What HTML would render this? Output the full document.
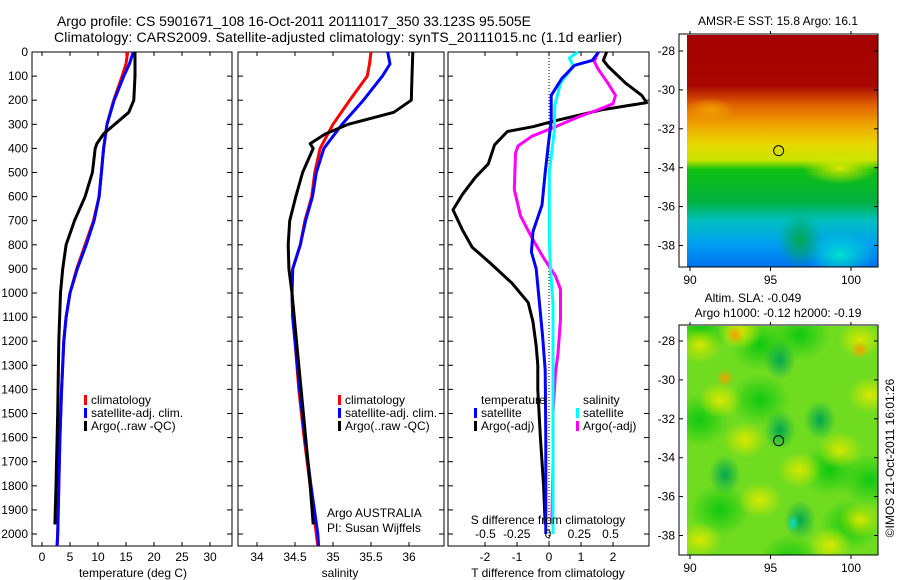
<!DOCTYPE html>
<html><head><meta charset="utf-8"><style>
html,body{margin:0;padding:0;background:#fff}
svg{display:block;font-family:"Liberation Sans",Arial,sans-serif;font-size:12px}
</style></head><body>
<svg id="fig" width="900" height="580" viewBox="0 0 900 580">
<defs>
<clipPath id="clip1"><rect x="687" y="35" width="191" height="232"/></clipPath>
<clipPath id="clip2"><rect x="687" y="326" width="191" height="229"/></clipPath>
<linearGradient id="sstg" x1="0" y1="0" x2="0" y2="1">
<stop offset="0" stop-color="#a40000"/><stop offset="0.22" stop-color="#a80800"/>
<stop offset="0.3" stop-color="#e06000"/><stop offset="0.38" stop-color="#f0a000"/>
<stop offset="0.47" stop-color="#e8d800"/><stop offset="0.54" stop-color="#c8e400"/>
<stop offset="0.58" stop-color="#10c010"/><stop offset="0.72" stop-color="#00b040"/>
<stop offset="0.8" stop-color="#00c0c0"/><stop offset="0.9" stop-color="#00a0f0"/>
<stop offset="1" stop-color="#0070f0"/></linearGradient>
<radialGradient id="gblob"><stop offset="0" stop-color="#00a850"/><stop offset="1" stop-color="#00a850" stop-opacity="0"/></radialGradient>
<radialGradient id="yblob"><stop offset="0" stop-color="#d8e800"/><stop offset="1" stop-color="#d8e800" stop-opacity="0"/></radialGradient>
<radialGradient id="oblob"><stop offset="0" stop-color="#f0a000"/><stop offset="1" stop-color="#f0a000" stop-opacity="0"/></radialGradient>
<radialGradient id="cblob"><stop offset="0" stop-color="#00e0d0"/><stop offset="1" stop-color="#00e0d0" stop-opacity="0"/></radialGradient>
<radialGradient id="lgblob"><stop offset="0" stop-color="#10c810"/><stop offset="1" stop-color="#10c810" stop-opacity="0"/></radialGradient>
</defs>
<g id="map1g" clip-path="url(#clip1)"></g>
<g id="map2g" clip-path="url(#clip2)"></g>
<g id="root"></g>
</svg>
<script>
// ---- data ----
const tDepth   = [0,50,100,200,300,400,500,600,700,800,900,1000,1100,1200,1400,1600,1800,2000,2050];
const tClim    = [15.3,15.0,14.3,12.8,11.6,11.0,10.6,10.2,9.2,7.7,6.2,5.0,4.3,3.9,3.5,3.2,3.0,2.8,2.7];
const tSat     = [16.3,15.6,14.6,12.9,11.6,11.0,10.6,10.2,9.3,7.9,6.3,5.0,4.3,3.9,3.5,3.2,3.0,2.8,2.7];
const argoDepth= [0,100,200,250,300,340,380,400,500,600,700,800,900,1000,1200,1500,1800,1960];
const tArgo    = [16.6,16.6,16.4,15.5,13.0,11.0,9.8,9.5,9.0,7.7,5.8,4.3,3.7,3.3,3.0,2.8,2.5,2.3];
const sClim    = [35.5,35.48,35.45,35.22,35.0,34.83,34.76,34.72,34.63,34.57,34.47,34.46,34.47,34.5,34.55,34.62,34.7,34.78,34.8];
const sSat     = [35.72,35.75,35.65,35.4,35.12,34.88,34.78,34.73,34.64,34.57,34.47,34.46,34.47,34.5,34.56,34.63,34.71,34.8,34.81];
const sArgo    = [36.05,36.04,36.03,35.8,35.2,34.9,34.7,34.74,34.6,34.51,34.43,34.41,34.42,34.46,34.52,34.61,34.7,34.74];
const dDepthK  = [0,35,60,130,180,210,240,285,310,330,385,465,520,590,655,740,810,880,960,1040,1120,1220,1300,1400,1600,1800,1960];
const dTArgo   = [1.8,1.7,1.85,2.4,2.9,3.05,1.65,0.2,-0.5,-1.3,-1.7,-1.9,-2.3,-2.7,-3.0,-2.7,-2.4,-1.8,-1.15,-0.65,-0.5,-0.4,-0.35,-0.35,-0.27,-0.17,-0.12];
const dDepthB  = [0,35,55,110,180,290,360,500,635,745,830,900,1040,1180,1320,1600,1800,2000];
const dTSat    = [1.55,1.35,0.8,0.4,0.07,0.07,0.0,-0.12,-0.22,-0.5,-0.55,-0.4,-0.3,-0.2,-0.12,-0.1,-0.1,-0.1];
const dDepthC  = [0,25,55,80,130,220,330,500,780,900,1050,1300,1600,1800,2000];
const dSSat    = [0.24,0.17,0.2,0.17,0.1,0.055,0.05,0.01,0.01,0.02,0.04,0.04,0.04,0.04,0.04];
const dDepthM  = [0,40,70,130,180,215,240,270,310,350,390,420,570,680,770,850,930,985,1110,1250,1330,1500,1700,1960];
const dSArgo   = [0.4,0.37,0.4,0.48,0.54,0.52,0.4,0.24,0.06,-0.13,-0.24,-0.26,-0.27,-0.22,-0.13,-0.04,0.06,0.1,0.1,0.08,0.06,0.04,0.04,0.03];
const depthTicks = [0,100,200,300,400,500,600,700,800,900,1000,1100,1200,1300,1400,1500,1600,1700,1800,1900,2000];
const tempTicks = [0,5,10,15,20,25,30];
const salTicks = [34,34.5,35,35.5,36];
const salTickLabels = ["34","34.5","35","35.5","36"];
const dtTicks = [-2,-1,0,1,2];
const dsTicks = [-0.5,-0.25,0,0.25,0.5];
const dsTickLabels = ["-0.5","-0.25","0","0.25","0.5"];
const latTicks = [-28,-30,-32,-34,-36,-38];
const lonTicks = [90,95,100];

// ---- helpers ----
const NS="http://www.w3.org/2000/svg";
const root=document.getElementById('root');
const map1g=document.getElementById('map1g');
const map2g=document.getElementById('map2g');
function mk(tag,attrs,parent){const e=document.createElementNS(NS,tag);for(const k in attrs)e.setAttribute(k,attrs[k]);(parent||root).appendChild(e);return e;}
function txt(s,x,y,anchor,parent,size){const e=mk('text',{x:x,y:y,'text-anchor':anchor||'start','font-size':size||12},parent);e.textContent=s;return e;}
const Y0=52, YB=546;
const yD=d=>Y0+d*0.241;
const xT=t=>42+t*5.6;
const xS=s=>295+(s-34.5)*76;
const xDT=v=>549+v*32;
const xDS=v=>548+v*125;
function line(xs,ys,xf,color,name,w){
  const pts=xs.map((v,i)=>xf(v).toFixed(1)+','+yD(ys[i]).toFixed(1)).join(' ');
  const e=mk('polyline',{points:pts,fill:'none',stroke:color,'stroke-width':w||3,'stroke-linejoin':'round'});
  
  
  return e;
}
function box(x1,x2,name){const e=mk('rect',{x:x1,y:Y0,width:x2-x1,height:YB-Y0,fill:'none',stroke:'#000','stroke-width':1});
  
  }

// titles
let t1=txt('Argo profile: CS 5901671_108 16-Oct-2011 20111017_350 33.123S 95.505E',57,26,'start',null,14);
t1.setAttribute('textLength','474');


let t2=txt('Climatology: CARS2009. Satellite-adjusted climatology: synTS_20111015.nc (1.1d earlier)',54,42,'start',null,14);
t2.setAttribute('textLength','568');



// panel 1: temperature
box(32,232,'temperature-panel');
depthTicks.forEach(d=>{
  mk('line',{x1:32,x2:37,y1:yD(d),y2:yD(d),stroke:'#000'});
  mk('line',{x1:227,x2:232,y1:yD(d),y2:yD(d),stroke:'#000'});
  const e=txt(String(d),28,yD(d)+4,'end');
  
  
});
tempTicks.forEach(t=>{
  mk('line',{x1:xT(t),x2:xT(t),y1:Y0,y2:Y0+4,stroke:'#000'});
  mk('line',{x1:xT(t),x2:xT(t),y1:YB,y2:YB-4,stroke:'#000'});
  const e=txt(String(t),xT(t),561,'middle');
  
  
});
let e;
e=txt('temperature (deg C)',133,577,'middle');


line(tClim,tDepth,xT,'#ff0000','temperature-climatology-line');
line(tSat,tDepth,xT,'#0000ff','temperature-satellite-line');
line(tArgo,argoDepth,xT,'#000000','temperature-argo-line');

// panel 2: salinity
box(238,444,'salinity-panel');
depthTicks.forEach(d=>{
  mk('line',{x1:238,x2:243,y1:yD(d),y2:yD(d),stroke:'#000'});
  mk('line',{x1:439,x2:444,y1:yD(d),y2:yD(d),stroke:'#000'});
});
salTicks.forEach((s,i)=>{
  mk('line',{x1:xS(s),x2:xS(s),y1:Y0,y2:Y0+4,stroke:'#000'});
  mk('line',{x1:xS(s),x2:xS(s),y1:YB,y2:YB-4,stroke:'#000'});
  const e=txt(salTickLabels[i],xS(s),561,'middle');
  
  
});
e=txt('salinity',340,577,'middle');


line(sClim,tDepth,xS,'#ff0000','salinity-climatology-line');
line(sSat,tDepth,xS,'#0000ff','salinity-satellite-line');
line(sArgo,argoDepth,xS,'#000000','salinity-argo-line');

// legends p1/p2
function legend(x,y,items,prefix){
  items.forEach((it,i)=>{
    const r=mk('rect',{x:x,y:y+i*13-9,width:3,height:10,fill:it[1]});
    
    
    const t=txt(it[0],x+7,y+i*13);
    
    
  });
}
legend(84,404,[['climatology','#ff0000'],['satellite-adj. clim.','#0000ff'],['Argo(..raw -QC)','#000']],'temperature-legend');
legend(338,404,[['climatology','#ff0000'],['satellite-adj. clim.','#0000ff'],['Argo(..raw -QC)','#000']],'salinity-legend');
e=txt('Argo AUSTRALIA',327,517);


e=txt('PI: Susan Wijffels',327,532);



// panel 3: differences
box(448,649,'difference-panel');
depthTicks.forEach(d=>{
  mk('line',{x1:448,x2:453,y1:yD(d),y2:yD(d),stroke:'#000'});
  mk('line',{x1:644,x2:649,y1:yD(d),y2:yD(d),stroke:'#000'});
});
mk('line',{x1:549,x2:549,y1:Y0,y2:YB,stroke:'#000','stroke-dasharray':'1,2','stroke-width':1});
dtTicks.forEach(v=>{
  mk('line',{x1:xDT(v),x2:xDT(v),y1:Y0,y2:Y0+4,stroke:'#000'});
  mk('line',{x1:xDT(v),x2:xDT(v),y1:YB,y2:YB-4,stroke:'#000'});
  const e=txt(String(v),xDT(v),561,'middle');
  
  
});
e=txt('T difference from climatology',548,577,'middle');


line(dTArgo,dDepthK,xDT,'#000000','t-difference-argo-line');
line(dSArgo,dDepthM,xDS,'#ff00ff','s-difference-argo-line');
line(dSSat,dDepthC,xDS,'#00ffff','s-difference-satellite-line');
line(dTSat,dDepthB,xDT,'#0000ff','t-difference-satellite-line');
dsTicks.forEach((v,i)=>{
  const e=txt(dsTickLabels[i],xDS(v),538,'middle');
  
  
});
e=txt('S difference from climatology',548,524,'middle');


e=txt('temperature',481,404);


e=txt('salinity',583,404);


legend(474,417,[['satellite','#0000ff'],['Argo(-adj)','#000']],'diff-legend-temperature');
legend(576,417,[['satellite','#00ffff'],['Argo(-adj)','#ff00ff']],'diff-legend-salinity');

// maps
function mapAxes(top,bottom,lat0y,name){
  const latY=l=>lat0y+(-28-l)*19.45;
  const lonX=l=>690+(l-90)*16.1;
  const b=mk('rect',{x:679,y:top,width:199,height:bottom-top,fill:'none',stroke:'#000'});
  
  
  latTicks.forEach(l=>{
    mk('line',{x1:679,x2:683,y1:latY(l),y2:latY(l),stroke:'#000'});
    mk('line',{x1:874,x2:878,y1:latY(l),y2:latY(l),stroke:'#000'});
    const t=txt(String(l),675,latY(l)+4,'end');
    
    
  });
  lonTicks.forEach(l=>{
    mk('line',{x1:lonX(l),x2:lonX(l),y1:bottom,y2:bottom+4,stroke:'#000'});
    mk('line',{x1:lonX(l),x2:lonX(l),y1:top,y2:top-3,stroke:'#000'});
    const t=txt(String(l),lonX(l),bottom+17,'middle');
    
    
  });
  const c=mk('circle',{cx:lonX(95.505),cy:latY(-33.123),r:5,fill:'none',stroke:'#000'});
  
  
}
// SST map
let m=mk('rect',{x:687,y:35,width:191,height:232,fill:'url(#sstg)'},map1g);


mk('ellipse',{cx:840,cy:255,rx:35,ry:22,fill:'url(#cblob)'},map1g);
mk('ellipse',{cx:800,cy:240,rx:22,ry:28,fill:'url(#gblob)'},map1g);
mk('ellipse',{cx:840,cy:168,rx:38,ry:16,fill:'url(#yblob)'},map1g);
mk('ellipse',{cx:710,cy:110,rx:25,ry:12,fill:'url(#oblob)'},map1g);
mapAxes(34,267,51,'sst-map');
e=txt('AMSR-E SST: 15.8 Argo: 16.1',778,25,'middle');


// SLA map
m=mk('rect',{x:687,y:326,width:191,height:229,fill:'#70dc20'},map2g);


[[760,345],[800,335],[700,420],[760,400],[830,470],[870,480],[720,510],[850,525],[790,560],[700,330]].forEach(p=>mk('ellipse',{cx:p[0],cy:p[1],rx:30,ry:26,fill:'url(#lgblob)'},map2g));
[[700,345],[740,332],[860,340],[720,400],[870,395],[745,440],[840,450],[800,470],[760,500],[860,520],[700,540],[830,545]].forEach(p=>mk('ellipse',{cx:p[0],cy:p[1],rx:22,ry:18,fill:'url(#yblob)'},map2g));
[[735,335],[860,350],[725,378]].forEach(p=>mk('ellipse',{cx:p[0],cy:p[1],rx:9,ry:9,fill:'url(#oblob)'},map2g));
[[780,430],[800,520],[725,475],[780,360],[820,420]].forEach(p=>mk('ellipse',{cx:p[0],cy:p[1],rx:16,ry:20,fill:'url(#gblob)'},map2g));
mk('ellipse',{cx:793,cy:523,rx:6,ry:9,fill:'url(#cblob)'},map2g);
mapAxes(325,555,341,'sla-map');
e=txt('Altim. SLA: -0.049',753,302,'middle');


e=txt('Argo h1000: -0.12 h2000: -0.19',778,317,'middle');


e=txt('©IMOS 21-Oct-2011 16:01:26',0,0,'middle');
e.setAttribute('transform','translate(894,458) rotate(-90)');


</script>
</body></html>
